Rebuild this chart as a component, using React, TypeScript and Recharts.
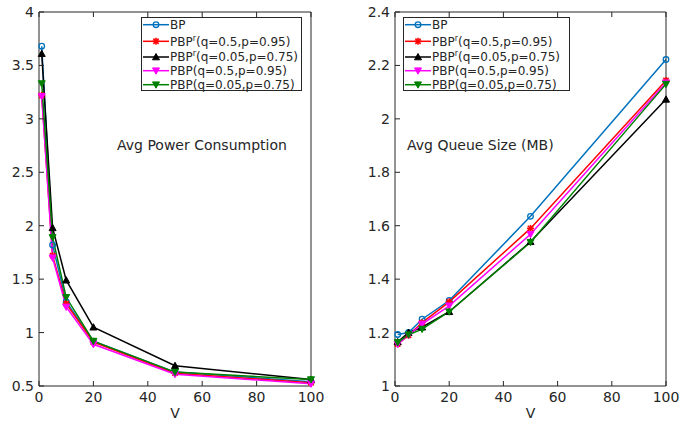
import React from 'react';
import { LineChart, Line, XAxis, YAxis } from 'recharts';

// x values (V)
const vValues = [1, 5, 10, 20, 50, 100];

// Avg power consumption
const powerBP = [3.68, 1.82, 1.29, 0.92, 0.63, 0.54];
const powerPBPr1 = [3.22, 1.72, 1.27, 0.91, 0.62, 0.53];
const powerPBPr2 = [3.61, 1.98, 1.49, 1.05, 0.69, 0.56];
const powerPBP1 = [3.21, 1.70, 1.24, 0.89, 0.61, 0.52];
const powerPBP2 = [3.33, 1.89, 1.33, 0.92, 0.63, 0.56];

// Avg queue size (MB)
const queueBP = [1.193, 1.2, 1.25, 1.32, 1.635, 2.222];
const queuePBPr1 = [1.157, 1.19, 1.237, 1.315, 1.59, 2.144];
const queuePBPr2 = [1.165, 1.2, 1.22, 1.278, 1.54, 2.073];
const queuePBP1 = [1.157, 1.19, 1.232, 1.3, 1.568, 2.135];
const queuePBP2 = [1.163, 1.192, 1.213, 1.278, 1.538, 2.13];

const xTicks = [0, 20, 40, 60, 80, 100];
const powerTicks = [0.5, 1, 1.5, 2, 2.5, 3, 3.5, 4];
const queueTicks = [1, 1.2, 1.4, 1.6, 1.8, 2, 2.2, 2.4];

const FONT = "'DejaVu Sans', sans-serif";
const INK = '#262626';

type Shape = 'circle' | 'star' | 'up' | 'down';

const series: { key: string; color: string; shape: Shape; base: string; sup?: string; rest: string }[] = [
    { key: 'bp', color: '#0072BD', shape: 'circle', base: 'BP', rest: '' },
    { key: 'pbpr1', color: '#FF0000', shape: 'star', base: 'PBP', sup: 'r', rest: '(q=0.5,p=0.95)' },
    { key: 'pbpr2', color: '#000000', shape: 'up', base: 'PBP', sup: 'r', rest: '(q=0.05,p=0.75)' },
    { key: 'pbp1', color: '#FF00FF', shape: 'down', base: 'PBP', rest: '(q=0.5,p=0.95)' },
    { key: 'pbp2', color: '#008000', shape: 'down', base: 'PBP', rest: '(q=0.05,p=0.75)' },
];

const powerData = vValues.map((v, i) => ({
    v,
    bp: powerBP[i],
    pbpr1: powerPBPr1[i],
    pbpr2: powerPBPr2[i],
    pbp1: powerPBP1[i],
    pbp2: powerPBP2[i],
}));

const queueData = vValues.map((v, i) => ({
    v,
    bp: queueBP[i],
    pbpr1: queuePBPr1[i],
    pbpr2: queuePBPr2[i],
    pbp1: queuePBP1[i],
    pbp2: queuePBP2[i],
}));

const Marker = ({ shape, color, cx, cy }: { shape: Shape; color: string; cx: number; cy: number }) => {
    if (cx == null || cy == null) return null;
    const s = 3.5;
    switch (shape) {
        case 'circle':
            return <circle cx={cx} cy={cy} r={2.8} fill="none" stroke={color} strokeWidth={1.3} />;
        case 'star':
            return (
                <g stroke={color} strokeWidth={1.6}>
                    <line x1={cx - s} y1={cy} x2={cx + s} y2={cy} />
                    <line x1={cx} y1={cy - s} x2={cx} y2={cy + s} />
                    <line x1={cx - s * 0.75} y1={cy - s * 0.75} x2={cx + s * 0.75} y2={cy + s * 0.75} />
                    <line x1={cx - s * 0.75} y1={cy + s * 0.75} x2={cx + s * 0.75} y2={cy - s * 0.75} />
                </g>
            );
        case 'up':
            return <polygon points={`${cx},${cy - s} ${cx - s},${cy + s * 0.8} ${cx + s},${cy + s * 0.8}`} fill={color} stroke={color} strokeWidth={1} />;
        case 'down':
            return <polygon points={`${cx},${cy + s} ${cx - s},${cy - s * 0.8} ${cx + s},${cy - s * 0.8}`} fill={color} stroke={color} strokeWidth={1} />;
    }
    return null;
};

const LegendBox = ({ left, width }: { left: number; width: number }) => {
    const rows = [7.7, 24.3, 40, 53.7, 67.7];
    return (
        <svg style={{ position: 'absolute', left, top: 17, overflow: 'visible' }} width={width} height={74}>
            <rect x={0.5} y={0.5} width={width - 1} height={73} fill="#fff" stroke={INK} strokeWidth={1} />
            {series.map((s, i) => (
                <g key={s.key}>
                    <line x1={2} x2={28} y1={rows[i]} y2={rows[i]} stroke={s.color} strokeWidth={1.5} />
                    <Marker shape={s.shape} color={s.color} cx={15} cy={rows[i]} />
                    <text x={29} y={rows[i] + 4.3} fontSize={12} fill={INK} fontFamily={FONT}>
                        {s.base}
                        {s.sup ? <tspan dy={-5} fontSize={8}>{s.sup}</tspan> : null}
                        {s.sup ? <tspan dy={5}>{s.rest}</tspan> : s.rest}
                    </text>
                </g>
            ))}
        </svg>
    );
};

const tickStyle = { fill: INK, fontSize: 14, fontFamily: FONT };

const Panel = ({ data, yDomain, yTicks, width, left, right }: any) => (
    <LineChart width={width} height={422} data={data} margin={{ top: 0, right: 0, bottom: 0, left: 0 }}>
        <XAxis xAxisId="top" orientation="top" type="number" dataKey="v" domain={[0, 100]} ticks={xTicks}
            height={12} tickSize={-5} tickFormatter={() => ''} stroke={INK} interval={0} />
        <YAxis yAxisId="right" orientation="right" type="number" domain={yDomain} ticks={yTicks}
            width={right} tickSize={-5} tickFormatter={() => ''} stroke={INK} interval={0} />
        <XAxis type="number" dataKey="v" domain={[0, 100]} ticks={xTicks} height={36} tickSize={-5} tickMargin={11}
            stroke={INK} tick={tickStyle} interval={0}
            label={{ value: 'V', position: 'insideBottom', offset: 4, fill: INK, fontSize: 14, fontFamily: FONT }} />
        <YAxis type="number" domain={yDomain} ticks={yTicks} width={left} tickSize={-5} tickMargin={10}
            stroke={INK} tick={tickStyle} interval={0} />
        {series.map(s => (
            <Line key={s.key} dataKey={s.key} stroke={s.color} strokeWidth={1.5} isAnimationActive={false}
                dot={(p: any) => <Marker key={`${s.key}-${p.index}`} shape={s.shape} color={s.color} cx={p.cx} cy={p.cy} />}
                activeDot={false} />
        ))}
    </LineChart>
);

export default function App() {
    return (
        <div style={{ position: 'absolute', left: 0, top: 0, width: 691, height: 422, background: '#fff', fontFamily: FONT }}>
            <div style={{ position: 'absolute', left: 0, top: 0 }}>
                <Panel data={powerData} yDomain={[0.5, 4]} yTicks={powerTicks} width={330} left={39} right={19} />
            </div>
            <div style={{ position: 'absolute', left: 355, top: 0 }}>
                <Panel data={queueData} yDomain={[1, 2.4]} yTicks={queueTicks} width={336} left={40} right={25} />
            </div>
            <div style={{ position: 'absolute', left: 117, top: 137, fontSize: 14, lineHeight: '16px', color: INK, whiteSpace: 'nowrap' }}>
                Avg Power Consumption
            </div>
            <div style={{ position: 'absolute', left: 407, top: 137, fontSize: 14, lineHeight: '16px', color: INK, whiteSpace: 'nowrap' }}>
                Avg Queue Size (MB)
            </div>
            <LegendBox left={141} width={161} />
            <LegendBox left={403} width={167} />
        </div>
    );
}
